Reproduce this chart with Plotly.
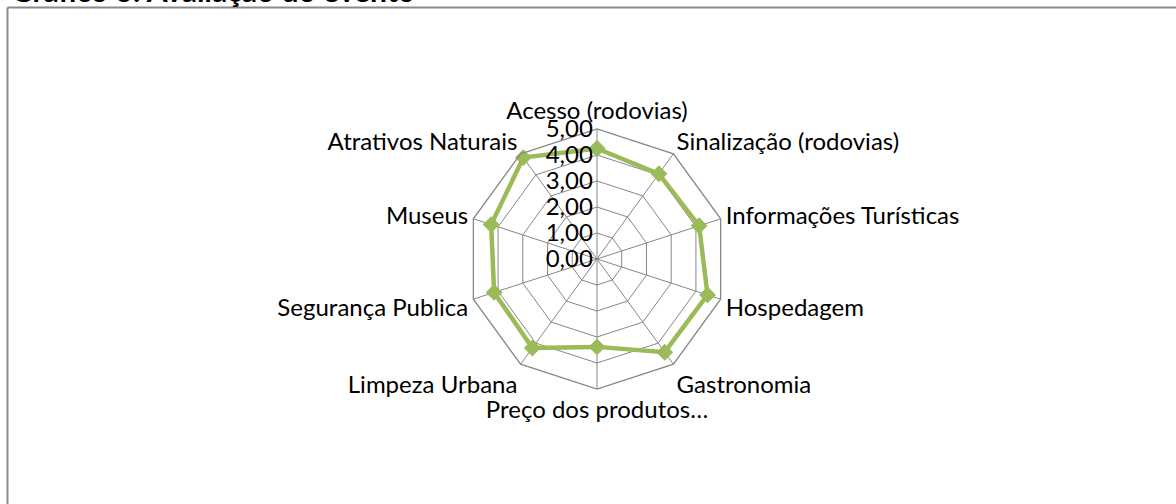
import plotly.graph_objects as go

categories = ["Acesso (rodovias)", "Sinalização (rodovias)", "Informações Turísticas",
              "Hospedagem", "Gastronomia", "Preço dos produtos…", "Limpeza Urbana",
              "Segurança Publica", "Museus", "Atrativos Naturais"]
values = [4.25, 4.05, 4.13, 4.47, 4.43, 3.38, 4.23, 4.16, 4.28, 4.82]
tick_vals = [0, 1, 2, 3, 4, 5]
title_text = "<b>Gráfico 6: Avaliação do evento</b>"

W, H = 1176, 504
cx, cy, R = 597, 259, 130

FONT = "Lato"
GRID = "#878787"
GREEN = "#9BBB59"
FS = 24

fig = go.Figure()
fig.add_trace(go.Scatterpolar(
    r=values + values[:1],
    theta=categories + categories[:1],
    mode="lines+markers",
    line=dict(color=GREEN, width=4.5),
    marker=dict(symbol="diamond", size=13, color=GREEN),
    showlegend=False,
    hoverinfo="r+theta",
))

fig.update_layout(
    width=W, height=H,
    margin=dict(l=0, r=0, t=0, b=0),
    paper_bgcolor="white",
    separators=", ",
    font=dict(family=FONT, size=FS, color="#000000"),
    polar=dict(
        domain=dict(x=[(cx - R) / W, (cx + R) / W], y=[(H - cy - R) / H, (H - cy + R) / H]),
        bgcolor="white",
        gridshape="linear",
        radialaxis=dict(
            range=[0, 5], tickmode="array", tickvals=tick_vals, tickformat=".2f",
            angle=90, tickangle=90, side="counterclockwise",
            showline=False, gridcolor=GRID, gridwidth=1.3,
            ticks="", tickfont=dict(family=FONT, size=FS, color="#000000"),
        ),
        angularaxis=dict(
            direction="clockwise", rotation=90,
            linecolor=GRID, linewidth=1.3, gridcolor=GRID, gridwidth=1.3,
            ticks="", tickfont=dict(family=FONT, size=FS, color="#000000"),
        ),
    ),
    shapes=[
        dict(type="line", xref="paper", yref="paper", x0=7.5 / W, x1=7.5 / W,
             y0=0, y1=(H - 7.5) / H, line=dict(color="#8a8a8a", width=2)),
        dict(type="line", xref="paper", yref="paper", x0=7.5 / W, x1=1,
             y0=(H - 7.5) / H, y1=(H - 7.5) / H, line=dict(color="#8a8a8a", width=2)),
    ],
    annotations=[
        dict(text=title_text, xref="paper", yref="paper", x=9 / W, y=(H - 9.5) / H,
             xanchor="left", yanchor="bottom", showarrow=False,
             font=dict(family=FONT, size=30, color="#000000")),
    ],
)

fig.write_html("out.html", config={"displayModeBar": False},
               post_script="document.body.style.margin='0';")
